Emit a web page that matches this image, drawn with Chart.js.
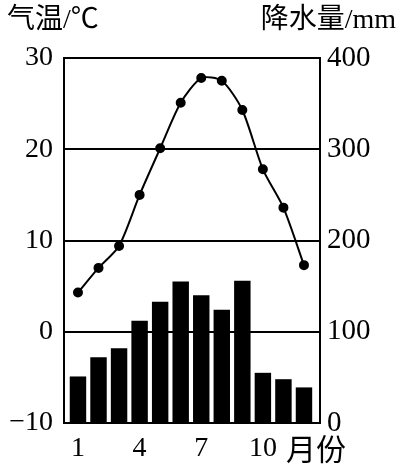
<!DOCTYPE html>
<html>
<head>
<meta charset="utf-8">
<script src="https://cdn.jsdelivr.net/npm/chart.js@4/dist/chart.umd.min.js"></script>
<style>
  body { margin: 0; background: #fff; }
  #wrap { width: 404px; height: 466px; }
</style>
</head>
<body>
<div id="wrap"><canvas id="climateChart"></canvas></div>
<script>
const months = [1, 2, 3, 4, 5, 6, 7, 8, 9, 10, 11, 12];
const temperature = [4.3, 7.0, 9.4, 15.0, 20.1, 25.1, 27.8, 27.5, 24.3, 17.8, 13.6, 7.3];
const precipitation = [51, 72, 82, 112, 133, 155, 140, 124, 156, 55, 48, 39];
const monthTicks = [1, 4, 7, 10];
const tempTicks = [30, 20, 10, 0, -10];
const rainTicks = [400, 300, 200, 100, 0];

const serif = 'Liberation Serif, Times New Roman, serif';
Chart.defaults.font.family = serif;
Chart.defaults.color = '#000';

// frame + axis titles
const framePlugin = {
  id: 'frame',
  afterDraw(chart) {
    const ctx = chart.ctx;
    const a = chart.chartArea;
    ctx.save();
    ctx.strokeStyle = '#000';
    ctx.lineWidth = 2;
    ctx.strokeRect(a.left, a.top, a.right - a.left, a.bottom - a.top);

    ctx.fillStyle = '#000';
    ctx.textBaseline = 'middle';
    ctx.font = "28px 'Liberation Serif', 'Noto Sans CJK SC'";
    ctx.textAlign = 'left';
    ctx.fillText('气温/℃', 7, 21);
    ctx.textAlign = 'right';
    ctx.fillText('降水量/mm', 396, 21);

    ctx.textAlign = 'left';
    ctx.font = "30px 'Noto Sans CJK SC'";
    ctx.fillText('月份', 286, 449);
    ctx.restore();
  }
};

const ctx = document.getElementById('climateChart').getContext('2d');

new Chart(ctx, {
  data: {
    datasets: [{
      type: 'line',
      data: months.map((m, i) => ({ x: m, y: temperature[i] })),
      yAxisID: 'yT',
      borderColor: '#000',
      backgroundColor: '#000',
      borderWidth: 2,
      pointRadius: 4,
      pointBackgroundColor: '#000',
      tension: 0.25,
      order: 0
    }, {
      type: 'bar',
      data: months.map((m, i) => ({ x: m, y: precipitation[i] })),
      yAxisID: 'yR',
      backgroundColor: '#000',
      barPercentage: 1,
      categoryPercentage: 0.8,
      order: 1
    }]
  },
  options: {
    responsive: true,
    maintainAspectRatio: false,
    animation: false,
    layout: { padding: { top: 58, left: 0, right: 0, bottom: 0 } },
    plugins: {
      legend: { display: false },
      tooltip: { enabled: false }
    },
    scales: {
      x: {
        type: 'linear',
        offset: false,
        min: 0.32,
        max: 12.78,
        grid: { display: false, drawTicks: false },
        border: { display: false },
        afterBuildTicks: axis => { axis.ticks = monthTicks.map(v => ({ value: v })); },
        afterFit: axis => { axis.height = 43; },
        ticks: {
          padding: 9,
          maxRotation: 0,
          font: { size: 28, family: serif },
          callback: v => String(v)
        }
      },
      yT: {
        position: 'left',
        min: -10,
        max: 30,
        grid: { color: '#000', lineWidth: 2, drawTicks: false },
        border: { display: false },
        afterBuildTicks: axis => { axis.ticks = tempTicks.map(v => ({ value: v })); },
        afterFit: axis => { axis.width = 64; },
        ticks: {
          padding: 11,
          font: { size: 28, family: serif },
          callback: v => v < 0 ? '\u2212' + Math.abs(v) : String(v)
        }
      },
      yR: {
        position: 'right',
        min: 0,
        max: 400,
        grid: { display: false, drawTicks: false },
        border: { display: false },
        afterBuildTicks: axis => { axis.ticks = rainTicks.map(v => ({ value: v })); },
        afterFit: axis => { axis.width = 84; },
        ticks: {
          padding: 7,
          font: { size: 29, family: serif },
          callback: v => String(v)
        }
      }
    }
  },
  plugins: [framePlugin]
});
</script>
</body>
</html>
